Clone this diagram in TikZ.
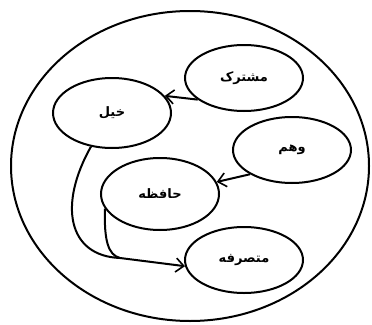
\documentclass[tikz,border=0pt]{standalone}
\usepackage{fontspec}
\newfontfamily\arabicfont[Script=Arabic]{DejaVu Sans}
\TeXXeTstate=1
\usetikzlibrary{shapes.geometric,arrows.meta}
\begin{document}
\begin{tikzpicture}[x=1pt, y=-1pt, line width=2pt,
  faculty/.style={draw, ellipse, minimum width=118pt, minimum height=66pt, inner sep=0pt,
    font=\arabicfont\bfseries\fontsize{13}{15}\selectfont},
  flow/.style={-{Straight Barb[length=8pt,width=14pt,line width=1.6pt]}}]
  \useasboundingbox (0,0) rectangle (372,324);
  \draw (190,166) ellipse [x radius=179, y radius=155];
  \node[faculty] (moshtarak) at (244,78) {\beginR مشترک\endR};
  \node[faculty, minimum height=70pt] (khial) at (112,113) {\beginR خیل\endR};
  \node[faculty] (vahm) at (292,150) {\beginR وهم\endR};
  \node[faculty, minimum height=72pt] (hafeze) at (160,194) {\beginR حافظه\endR};
  \node[faculty] (motasarrefe) at (244,260) {\beginR متصرفه\endR};
  \coordinate (J) at (120,258);
  \draw[flow] (moshtarak.-155) -- (khial.18);
  \draw[flow] (vahm.-150) -- (hafeze.12);
  \draw (khial.-122) .. controls (58,205) and (68,256) .. (J);
  \draw (hafeze.195) .. controls (104,240) and (108,255) .. (J);
  \draw[flow] (J) -- (motasarrefe.186);
\end{tikzpicture}
\end{document}
